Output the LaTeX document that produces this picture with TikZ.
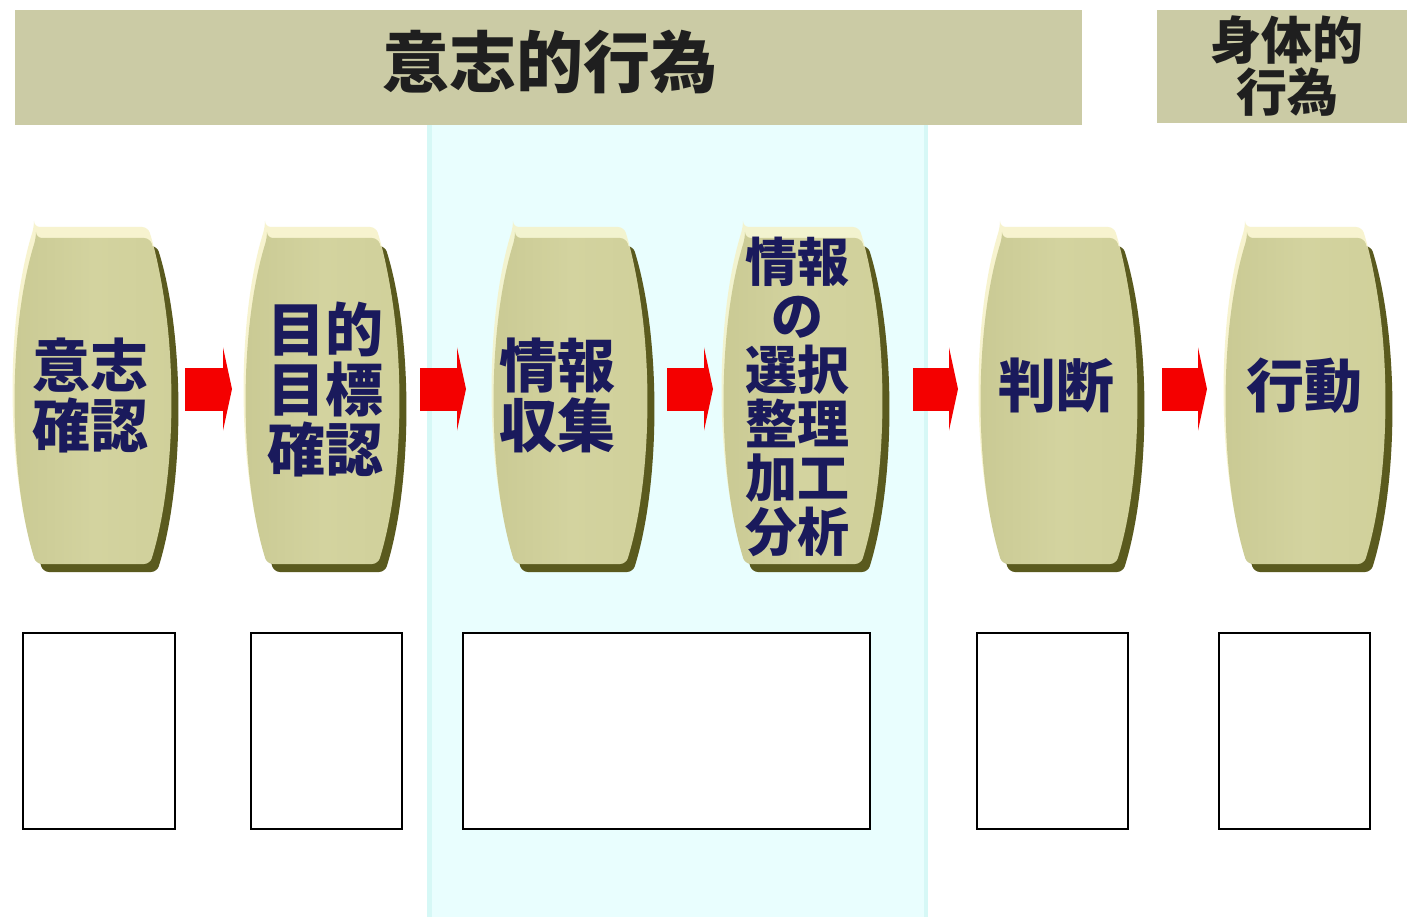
\documentclass[tikz,border=0pt]{standalone}
\usepackage{fontspec}
\newfontfamily\jp{Noto Sans CJK JP}
\usetikzlibrary{arrows.meta,fit}
\definecolor{barbg}{HTML}{CBCBA5}
\definecolor{bandc}{HTML}{E9FEFE}
\definecolor{bandedge}{HTML}{D6F8F6}
\definecolor{bodyL}{HTML}{C9C993}
\definecolor{bodyM}{HTML}{D3D39F}
\definecolor{bodyR}{HTML}{D0D09A}
\definecolor{bshadow}{HTML}{5A5A1E}
\definecolor{bglow}{HTML}{F5F1C4}
\definecolor{navy}{HTML}{1A1A5C}
\definecolor{arrowred}{HTML}{F40000}
\newcommand\barrel[5]{%
  \foreach \dx/\dy/\cc/\op in {7/8/bshadow/1,-2/-11/bglow/0.8}{%
    \fill[\cc,opacity=\op,rounded corners=6pt,shift={(\dx,\dy)}] (#2+22,#4) -- (#3-22,#4) .. controls (#3+6,#4+90) and (#3+6,#5-90) .. (#3-22,#5) -- (#2+22,#5) .. controls (#2-6,#5-90) and (#2-6,#4+90) .. (#2+22,#4) -- cycle;
  }
  \shade[left color=bodyL,right color=bodyR,middle color=bodyM,rounded corners=6pt] (#2+22,#4) -- (#3-22,#4) .. controls (#3+6,#4+90) and (#3+6,#5-90) .. (#3-22,#5) -- (#2+22,#5) .. controls (#2-6,#5-90) and (#2-6,#4+90) .. (#2+22,#4) -- cycle;
  \node[inner sep=0pt,outer sep=0pt,fit={(#2,#4) (#3+7,#5+8)}] (#1) {};
}
\tikzset{
  lbl/.style={font=\jp\bfseries\fontsize{58}{60}\selectfont,text=navy,align=center,inner sep=0pt},
  flow/.style={line width=43pt,arrowred,-{Triangle[width=83pt,length=9pt]}},
  blank/.style={draw=black,line width=2pt,fill=white,inner sep=0pt},
  bar/.style={fill=barbg,draw=none}
}
\begin{document}
\begin{tikzpicture}[x=1pt,y=-1pt]
\useasboundingbox (0,0) rectangle (1407,917);
\fill[white] (0,0) rectangle (1407,917);
% band
\fill[bandc] (427,125) rectangle (928,917);
\fill[bandedge] (427,125) rectangle (432,917);
\fill[bandedge] (924,125) rectangle (928,917);
% top bars
\node[bar,minimum width=1067pt,minimum height=115pt,anchor=north west] (vol) at (15,10) {};
\node[font=\jp\bfseries\fontsize{67}{69}\selectfont,text=black!88] (voltxt) at (550,62) {意志的行為};
\node[bar,minimum width=250pt,minimum height=113pt,anchor=north west] (phys) at (1157,10) {};
\node[font=\jp\bfseries\fontsize{51}{52}\selectfont,text=black!88,align=center,inner sep=0pt] (phystxt) at (1287,66) {身体的\\行為};
% barrels
\barrel{s1}{14}{172}{238}{564}
\barrel{s2}{245}{400}{238}{564}
\barrel{s3}{493}{648}{238}{564}
\barrel{s4}{723}{883}{238}{564}
\barrel{s5}{980}{1138}{238}{564}
\barrel{s6}{1225}{1386}{238}{564}
% labels
\node[lbl] (t1) at (90,395) {意志\\確認};
\node[lbl] (t2) at (325,389) {目的\\目標\\確認};
\node[lbl] (t3) at (557,395) {情報\\収集};
\node[lbl,font=\jp\bfseries\fontsize{52}{54}\selectfont] (t4) at (797,397) {情報\\の\\選択\\整理\\加工\\分析};
\node[lbl] (t5) at (1056,385) {判断};
\node[lbl] (t6) at (1304,386) {行動};
% arrows
\foreach \a/\b/\sa/\sb in {s1/s2/6pt/13pt,s2/s3/13pt/27pt,s3/s4/12pt/10pt,s4/s5/23pt/22pt,s5/s6/17pt/18pt}{
  \draw[flow,shorten <=\sa,shorten >=\sb] ([yshift=16pt]\a.east) -- ([yshift=16pt]\b.west);
}
% blank boxes
\node[blank,minimum width=152pt,minimum height=196pt,anchor=north west] (b1) at (22,632) {};
\node[blank,minimum width=151pt,minimum height=196pt,anchor=north west] (b2) at (250,632) {};
\node[blank,minimum width=407pt,minimum height=196pt,anchor=north west] (b3) at (462,632) {};
\node[blank,minimum width=151pt,minimum height=196pt,anchor=north west] (b4) at (976,632) {};
\node[blank,minimum width=151pt,minimum height=196pt,anchor=north west] (b5) at (1218,632) {};
\end{tikzpicture}
\end{document}
